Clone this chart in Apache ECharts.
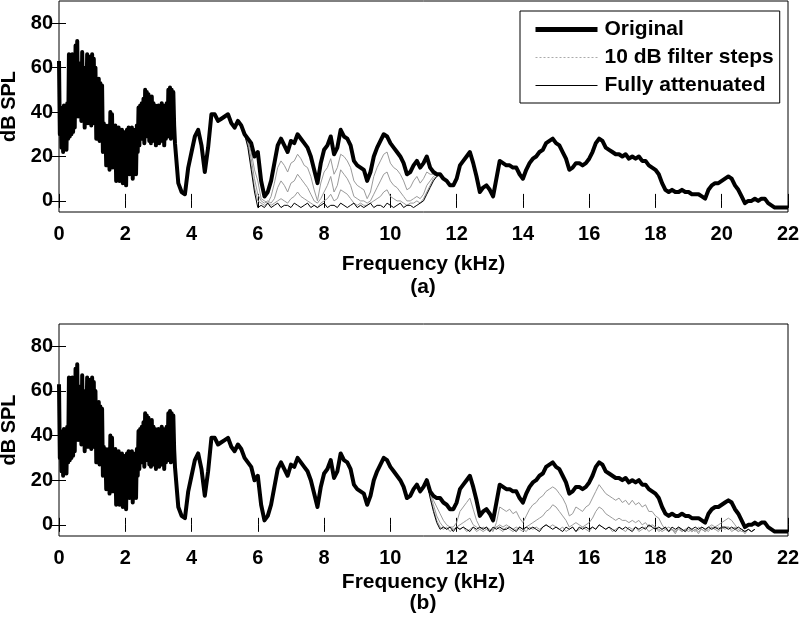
<!DOCTYPE html>
<html><head><meta charset="utf-8">
<script src="https://cdn.jsdelivr.net/npm/echarts@6/dist/echarts.min.js"></script>
<style>html,body{margin:0;padding:0;background:#fff}#c{width:799px;height:624px}</style>
</head><body><div id="c"></div>
<script>
// ---- tick labels ----
const xTicks = [0, 2, 4, 6, 8, 10, 12, 14, 16, 18, 20, 22];
const yTicks = [0, 20, 40, 60, 80];

// ---- original spectrum (dB SPL) ----
// 0 .. 3.5 kHz, every 0.025 kHz (dense harmonic band)
const lowFreqDb = [
  63,30,42,24,40,22,43,26,41,23,
  44,28,66,29,65,30,66,31,64,33,
  70,40,72,38,62,44,60,36,67,42,
  60,33,58,44,66,35,58,42,65,34,
  66,40,64,35,60,28,54,30,55,27,
  53,30,52,22,35,24,34,16,33,22,
  34,14,40,22,39,15,33,20,34,9,
  32,20,33,9,31,19,32,8,30,18,
  31,7,32,19,33,12,32,20,33,10,
  31,20,32,12,34,22,42,25,43,30,
  44,28,46,26,50,29,49,30,48,27,
  46,26,47,29,44,27,43,25,42,26,
  43,26,42,27,44,28,43,25,42,28,
  44,29,50,30,51,28,50,30,49,34,
  26];
// 3.6 .. 22.0 kHz, every 0.1 kHz
const highFreqDb = [8,4,3,15,22,29,32,25,13,24,
  39,39,36,37,38,39,35,33,36,34,
  30,28,26,20,22,9,2,4,9,17,
  25,28,25,22,27,26,30,28,26,24,
  20,14,8,17,23,25,29,21,24,32,
  29,28,25,18,16,15,14,9,13,20,
  24,27,30,29,26,24,22,20,17,12,
  13,16,18,15,17,20,15,13,12,12,
  10,9,7,7,10,16,18,20,22,17,
  11,4,6,7,5,2,10,18,17,16,
  16,15,15,12,10,14,17,19,20,22,
  23,26,27,28,26,25,22,19,14,15,
  17,17,16,17,19,22,26,28,27,24,
  23,22,21,21,20,21,19,20,19,20,
  18,18,16,15,14,12,8,5,4,5,
  4,4,5,4,4,3,3,3,2,1,
  5,7,8,8,9,10,11,10,7,5,
  2,-1,0,0,1,0,1,1,-1,-2,
  -3,-3,-3,-3,-3];

// ---- panel (a): filter 6-11.5 kHz, 5.6 .. 11.6 kHz every 0.1 kHz ----
const aStep1 = [30,27,22,14,9,1,0,-1,2,8, 15,18,16,13,17,18,21,19,16,15, 11,5,0,8,13,15,19,12,15,21, 20,18,15,9,7,6,5,1,4,11, 15,18,21,22,17,15,14,12,9,5, 6,9,11,8,10,13,12,12,12,12, 10];
const aStep2 = [30,26,19,10,3,0,-1,0,-1,1, 6,9,7,4,8,9,12,10,8,6, 3,0,-1,1,4,7,11,4,7,14, 12,10,7,2,1,0,0,-1,0,3, 6,9,12,13,9,7,6,4,2,0, 0,1,2,1,3,7,9,11,12,12, 10];
const aStep3 = [30,25,16,6,0,-1,-2,-1,-2,-1, 0,1,0,-1,1,2,4,2,1,0, -1,-2,-3,-1,0,1,3,0,1,5, 4,3,1,-1,-2,-1,-2,-2,-1,0, 1,2,4,5,2,1,0,0,-1,-2, -1,-1,0,-1,1,4,7,10,11,12, 10];
const aAtten = [30,24,14,4,-3,-2,-3,-1,-3,-2, -1,-3,-2,-2,-3,-1,-2,-3,-2,-1, -3,-2,-3,-2,-1,-3,-2,-2,-3,-1, -2,-3,-2,-1,-3,-2,-3,-2,-1,-3, -2,-2,-3,-1,-2,-3,-2,-1,-3,-2, -2,-3,-2,-1,0,3,6,9,11,12, 10];

// ---- panel (b): filter 11.5-22 kHz, 11.0 .. 21.0 kHz every 0.1 kHz ----
const bStep1 = [17,20,15,11,8,5,2,0,-1,-1, 1,6,8,10,12,7,2,-1,-2,-1, -2,-3,1,8,7,6,7,5,6,3, 1,4,7,9,10,12,13,15,16,17, 16,14,12,9,4,5,8,7,6,8, 9,12,15,18,16,14,13,12,11,12, 10,11,9,11,9,10,8,9,6,6, 4,3,0,-2,-1,-2,-3,-1,-2,-3, -2,-3,-2,-3,-2,-3,-1,0,-1,0, 1,2,3,2,0,-2,-3,-3,-2,-3, -2];
const bStep2 = [17,20,14,9,4,1,-1,-2,-1,-2, -1,0,1,2,3,0,-1,-2,-3,-2, -3,-2,-1,0,-1,0,-1,-2,-1,-2, -3,-1,0,1,2,3,4,6,7,9, 8,6,4,2,-1,0,1,0,-1,0, 1,3,6,8,7,5,4,3,2,3, 2,2,1,2,1,2,0,1,-1,0, -1,-2,-3,-2,-3,-2,-3,-2,-3,-2, -3,-2,-3,-1,-2,-3,-2,-1,-2,-1, -2,-1,-1,-2,-1,-3,-2,-3,-2,-3, -2];
const bStep3 = [17,19,13,7,2,-1,-2,-1,-3,-2, -1,-2,-1,-3,-2,-1,-3,-2,-1,-2, -3,-2,-1,-2,-3,-1,-2,-3,-2,-1, -2,-3,-1,-2,-1,-2,-1,0,-1,0, -1,-2,-1,-3,-2,-1,-3,-2,-1,-2, -3,-1,-2,0,-1,-2,-1,-3,-2,-1, -2,-3,-1,-2,-1,-3,-2,-1,-3,-2, -1,-3,-2,-1,-3,-2,-4,-1,-3,-2, -1,-3,-2,-4,-1,-2,-3,-1,-2,-3, -1,-2,-1,-3,-2,-3,-2,-4,-2,-3, -2];
const bAtten = [17,19,12,6,1,-2,-1,-2,-1,-3, -1,-2,-1,-2,-3,-1,-2,-1,-2,-1, -3,-1,-2,-1,-2,-2,-1,-2,-3,-1, -2,-1,-2,-1,-2,-3,-1,0,-1,-2, -1,-2,-3,-1,-2,-1,-3,-1,-2,-1, -2,-1,-2,0,-1,-2,-1,-2,-3,-1, -2,-1,-2,-3,-1,-2,-1,-2,0,-1, -2,-1,-2,-1,-3,-1,-2,-1,-2,-3, -1,-2,-1,-2,-1,-2,-1,-2,-1,-2, -1,-1,-2,-1,-2,-1,-2,-3,-2,-3, -2];

// ---- helpers ----
function pairs(start, step, vals) {
  return vals.map((v, i) => [+(start + i * step).toFixed(3), v]);
}
const original = pairs(0, 0.025, lowFreqDb).concat(pairs(3.6, 0.1, highFreqDb));

const FONT = '"Liberation Sans", Arial, Helvetica, sans-serif';
const NAME_ORIG = 'Original', NAME_STEP = '10 dB filter steps', NAME_ATT = 'Fully attenuated';

function xAxes(gi, nameGap) {
  const base = {
    type: 'value', gridIndex: gi, min: 0, max: 22, interval: 2,
    splitLine: { show: false }, axisLine: { show: false },
    axisTick: { show: true, inside: true, length: 7, lineStyle: { color: '#000', width: 1 } }
  };
  return [
    Object.assign({}, base, {
      position: 'bottom',
      axisLabel: { show: true, margin: 12, color: '#000', fontFamily: FONT, fontWeight: 'bold', fontSize: 20,
        customValues: xTicks },
      name: 'Frequency (kHz)', nameLocation: 'middle', nameGap: nameGap,
      nameTextStyle: { color: '#000', fontFamily: FONT, fontWeight: 'bold', fontSize: 21 }
    }),
    Object.assign({}, base, { position: 'top', axisLabel: { show: false } })
  ];
}
function yAxes(gi) {
  const base = {
    type: 'value', gridIndex: gi, min: -5, max: 90,
    splitLine: { show: false }, axisLine: { show: false },
    axisTick: { show: true, inside: true, length: 7, customValues: yTicks, lineStyle: { color: '#000', width: 1 } }
  };
  return [
    Object.assign({}, base, {
      position: 'left',
      axisLabel: { show: true, margin: 6, color: '#000', fontFamily: FONT, fontWeight: 'bold', fontSize: 20,
        customValues: yTicks },
      name: 'dB SPL', nameLocation: 'middle', nameGap: 39, nameRotate: 90,
      nameTextStyle: { color: '#000', fontFamily: FONT, fontWeight: 'bold', fontSize: 20 }
    }),
    Object.assign({}, base, { position: 'right', axisLabel: { show: false } })
  ];
}

function lineSeries(name, data, xi, yi, color, width, z) {
  return {
    type: 'line', name: name, data: data, xAxisIndex: xi, yAxisIndex: yi,
    symbol: 'none', showSymbol: false, animation: false, z: z,
    lineStyle: { color: color, width: width, join: 'round' },
    itemStyle: { color: color }
  };
}

const GRAY = '#9a9a9a';
const series = [
  // panel (a)
  lineSeries(NAME_STEP, pairs(5.6, 0.1, aStep1), 0, 0, GRAY, 1, 2),
  lineSeries(NAME_STEP, pairs(5.6, 0.1, aStep2), 0, 0, GRAY, 1, 2),
  lineSeries(NAME_STEP, pairs(5.6, 0.1, aStep3), 0, 0, GRAY, 1, 2),
  lineSeries(NAME_ATT, pairs(5.6, 0.1, aAtten), 0, 0, '#000', 1, 3),
  lineSeries(NAME_ORIG, original, 0, 0, '#000', 4, 4),
  // panel (b)
  lineSeries(NAME_STEP, pairs(11.0, 0.1, bStep1), 2, 2, GRAY, 1, 2),
  lineSeries(NAME_STEP, pairs(11.0, 0.1, bStep2), 2, 2, GRAY, 1, 2),
  lineSeries(NAME_STEP, pairs(11.0, 0.1, bStep3), 2, 2, GRAY, 1, 2),
  lineSeries(NAME_ATT, pairs(11.0, 0.1, bAtten), 2, 2, '#000', 1, 3),
  lineSeries(NAME_ORIG, original, 2, 2, '#000', 4, 4)
];

const gridBase = { left: 59, right: 11, show: true, borderColor: '#000', borderWidth: 1,
  backgroundColor: 'transparent', containLabel: false, outerBoundsMode: 'none' };

const chart = echarts.init(document.getElementById('c'), null, { renderer: 'canvas' });
chart.setOption({
  animation: false,
  backgroundColor: '#fff',
  grid: [
    Object.assign({}, gridBase, { top: 1, height: 211 }),
    Object.assign({}, gridBase, { top: 324, height: 212 })
  ],
  xAxis: xAxes(0, 42).concat(xAxes(1, 36)),
  yAxis: yAxes(0).concat(yAxes(1)),
  legend: {
    left: 520, top: 11, orient: 'vertical',
    backgroundColor: '#fff', borderColor: '#000', borderWidth: 1, borderRadius: 0,
    padding: [8, 6, 7, 13], itemWidth: 62, itemHeight: 20, itemGap: 7,
    selectedMode: false, z: 10,
    itemStyle: { opacity: 0 },
    textStyle: { color: '#000', fontFamily: FONT, fontWeight: 'bold', fontSize: 21, padding: [0, 0, 0, 2] },
    data: [
      { name: NAME_ORIG, lineStyle: { width: 5, color: '#000' } },
      { name: NAME_STEP, lineStyle: { width: 1, color: '#aaa', type: [2, 2] } },
      { name: NAME_ATT, lineStyle: { width: 1, color: '#000' } }
    ]
  },
  graphic: [
    { type: 'text', x: 423, y: 287, style: { text: '(a)', font: 'bold 21px ' + FONT, fill: '#000', textAlign: 'center', textVerticalAlign: 'middle' } },
    { type: 'text', x: 423, y: 603, style: { text: '(b)', font: 'bold 21px ' + FONT, fill: '#000', textAlign: 'center', textVerticalAlign: 'middle' } }
  ],
  series: series
});
</script>
</body></html>
